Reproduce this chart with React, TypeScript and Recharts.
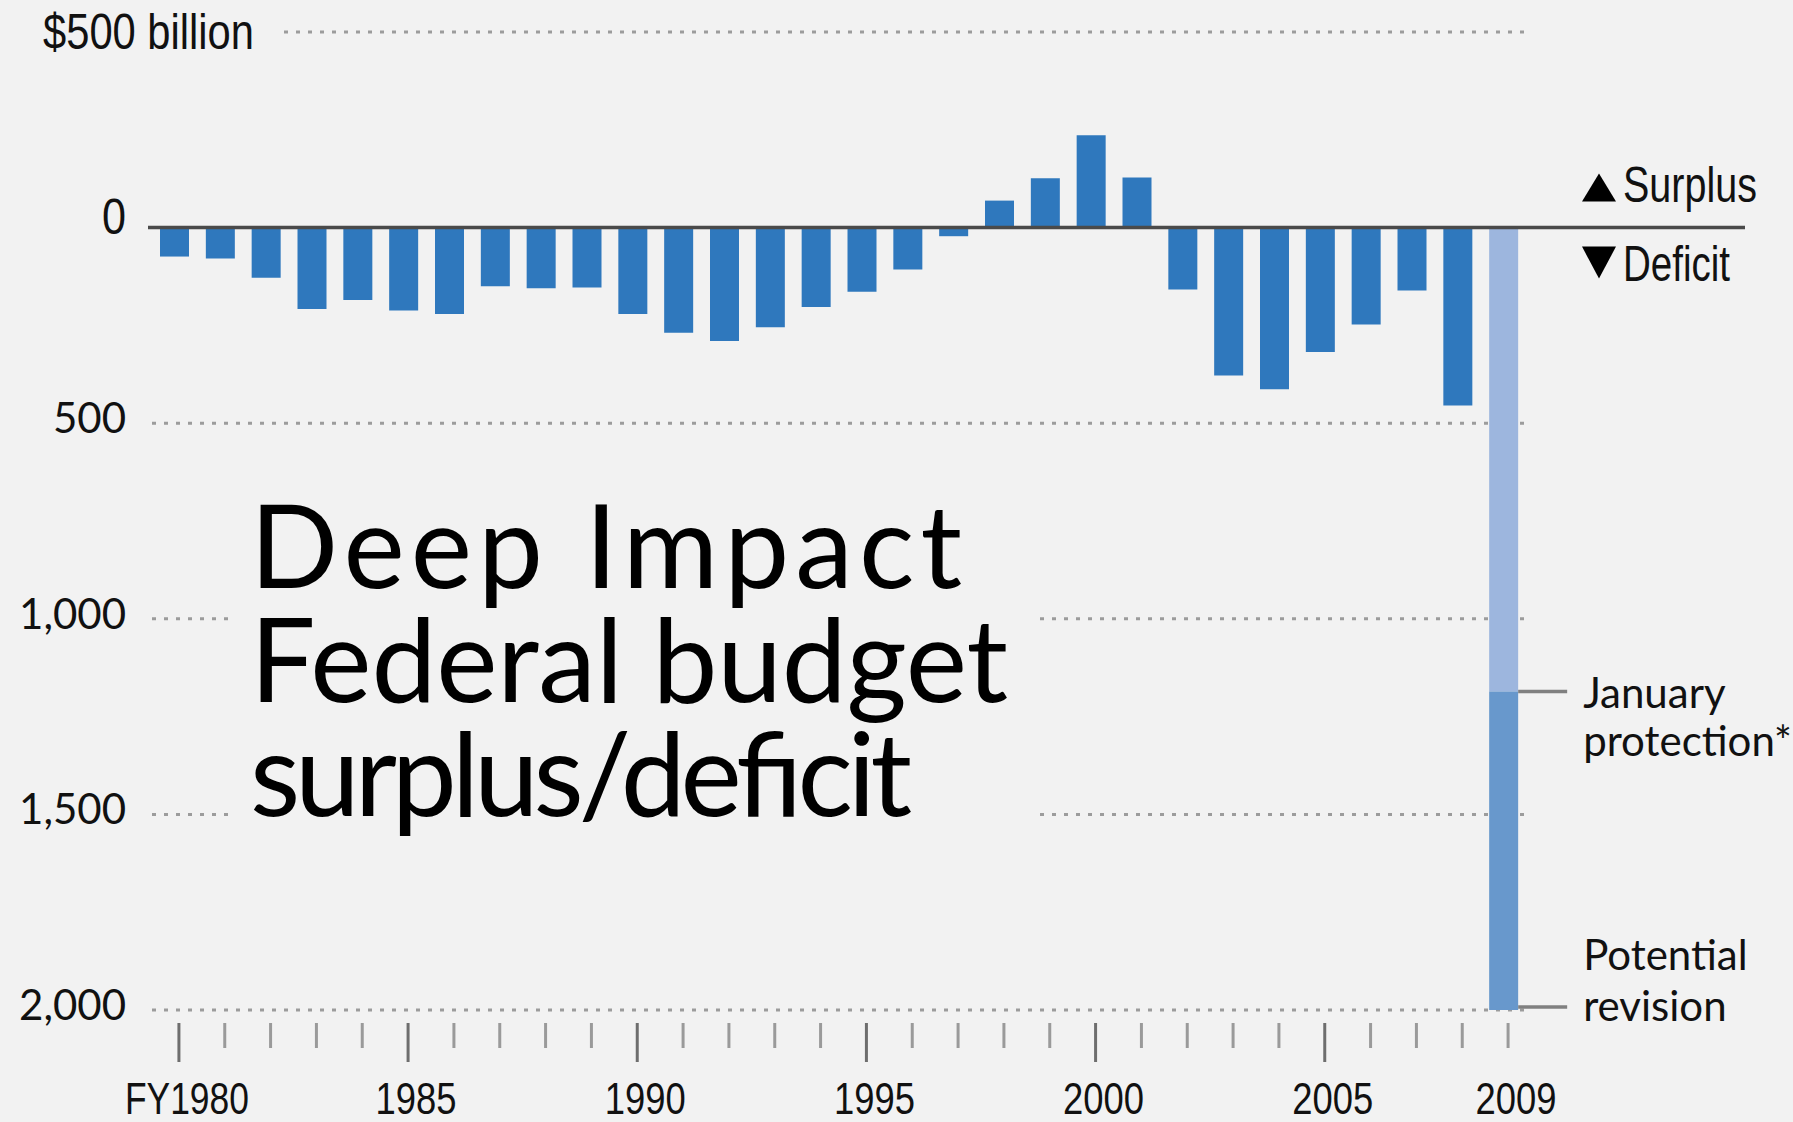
import { BarChart, Bar, XAxis, YAxis, CartesianGrid, ReferenceLine, LabelList } from 'recharts';

// fiscal years on the x axis
const YEARS = [
  1980, 1981, 1982, 1983, 1984, 1985, 1986, 1987, 1988, 1989,
  1990, 1991, 1992, 1993, 1994, 1995, 1996, 1997, 1998, 1999,
  2000, 2001, 2002, 2003, 2004, 2005, 2006, 2007, 2008, 2009,
];

// surplus (+) / deficit (-), $ billion; 2009 drawn separately
const ACTUAL = [
  -74, -79, -128, -208, -185, -212, -221, -150, -155, -153,
  -221, -269, -290, -255, -203, -164, -107, -22, 69, 126,
  236, 128, -158, -378, -413, -318, -248, -161, -455, null,
];

const JANUARY_PROJECTION_2009 = -1186;
const POTENTIAL_REVISION_2009 = -2000;

const Y_TICKS = [500, 0, -500, -1000, -1500, -2000];
const MAJOR_YEARS = [1980, 1985, 1990, 1995, 2000, 2005];
const YEAR_LABELS: Record<number, string> = {
  1980: 'FY1980', 1985: '1985', 1990: '1990', 1995: '1995', 2000: '2000', 2005: '2005', 2009: '2009',
};

const DATA = YEARS.map((year, i) => ({
  year,
  actual: ACTUAL[i],
  projection: year === 2009 ? JANUARY_PROJECTION_2009 : null,
  revision: year === 2009 ? POTENTIAL_REVISION_2009 - JANUARY_PROJECTION_2009 : null,
}));

const BG = '#f2f2f2';
const COND = "'Liberation Sans', Arial, sans-serif";
const HUMAN = "Lato, 'Open Sans', sans-serif";

// condensed-looking text: squeeze a regular face to the measured width
function Narrow({ x, y, size, width, anchor = 'start', children }: any) {
  return (
    <text x={x} y={y} fontFamily={COND} fontSize={size} fill="#111" textAnchor={anchor}
      textLength={width} lengthAdjust="spacingAndGlyphs">
      {children}
    </text>
  );
}

function ValueTick(props: any) {
  const { x, y, payload } = props;
  const v = payload.value;
  if (v === 500) {
    return (
      <g>
        <rect x={x - 12} y={y - 8} width={142} height={16} fill={BG} />
        <Narrow x={x - 109} y={y + 17} size={50} width={211}>$500 billion</Narrow>
      </g>
    );
  }
  if (v === 0) {
    return <Narrow x={x - 26} y={y + 6} size={50} width={24} anchor="end">0</Narrow>;
  }
  return (
    <text x={x - 26} y={y + 10} textAnchor="end" fontFamily={HUMAN} fontSize={42} fill="#111">
      {Math.abs(v).toLocaleString('en-US')}
    </text>
  );
}

function YearTick(props: any) {
  const { x, y, payload } = props;
  const yr = payload.value;
  const major = MAJOR_YEARS.includes(yr);
  const label = YEAR_LABELS[yr];
  return (
    <g>
      <line x1={x + 4} x2={x + 4} y1={y + 13} y2={y + (major ? 52 : 38)} stroke={major ? '#6e6e6e' : '#9a9a9a'} strokeWidth={3} />
      {label && (
        <Narrow x={x + 12} y={y + 104} size={44} width={label.length > 4 ? 124 : 81} anchor="middle">{label}</Narrow>
      )}
    </g>
  );
}

function ZeroLine(props: any) {
  const { x1, x2, y1 } = props;
  const tx = x2 + 55;
  return (
    <g>
      <line x1={x1 - 4} x2={x2 + 218} y1={y1} y2={y1} stroke="#4a4a4a" strokeWidth={3.5} />
      <polygon points={`${tx},${y1 - 26} ${tx + 34},${y1 - 26} ${tx + 17},${y1 - 54}`} fill="#000" />
      <Narrow x={tx + 41} y={y1 - 26} size={50} width={134}>Surplus</Narrow>
      <polygon points={`${tx},${y1 + 19} ${tx + 34},${y1 + 19} ${tx + 17},${y1 + 51}`} fill="#000" />
      <Narrow x={tx + 41} y={y1 + 53} size={50} width={107}>Deficit</Narrow>
    </g>
  );
}

function JanuaryNote(props: any) {
  const { x, y, width, height } = props;
  if (!height || Math.abs(height) < 1) return null;
  const right = x + width;
  const bottom = Math.max(y, y + height);
  return (
    <g>
      <line x1={right} x2={right + 49} y1={bottom} y2={bottom} stroke="#808080" strokeWidth={3.5} />
      <text fontFamily={HUMAN} fontSize={42} fill="#111">
        <tspan x={right + 65} y={bottom + 16}>January</tspan>
        <tspan x={right + 65} y={bottom + 64}>protection*</tspan>
      </text>
    </g>
  );
}

function RevisionNote(props: any) {
  const { x, y, width, height } = props;
  if (!height || Math.abs(height) < 1) return null;
  const right = x + width;
  const bottom = Math.max(y, y + height);
  return (
    <g>
      <line x1={right} x2={right + 49} y1={bottom - 3} y2={bottom - 3} stroke="#808080" strokeWidth={3.5} />
      <text fontFamily={HUMAN} fontSize={42} fill="#111">
        <tspan x={right + 65} y={bottom - 40}>Potential</tspan>
        <tspan x={right + 65} y={bottom + 11}>revision</tspan>
      </text>
    </g>
  );
}

export default function App() {
  return (
    <div style={{ position: 'absolute', left: 0, top: 0, width: 1793, height: 1122, background: BG, overflow: 'hidden' }}>
      <BarChart
        width={1793}
        height={1122}
        data={DATA}
        margin={{ top: 32, right: 266, bottom: 0, left: 0 }}
        stackOffset="sign"
        barSize={29}
      >
        <CartesianGrid vertical={false} stroke="#9c9c9c" strokeWidth={3} strokeDasharray="4 8" />
        <XAxis
          dataKey="year"
          interval={0}
          height={112}
          axisLine={false}
          tickLine={false}
          tickSize={0}
          tickMargin={0}
          tick={<YearTick />}
        />
        <YAxis
          type="number"
          domain={[-2000, 500]}
          ticks={Y_TICKS}
          width={152}
          axisLine={false}
          tickLine={false}
          tickSize={0}
          tickMargin={0}
          tick={<ValueTick />}
        />
        <Bar dataKey="actual" stackId="s" fill="#2f78bd" isAnimationActive={false} />
        <Bar dataKey="projection" stackId="s" fill="#9db6de" isAnimationActive={false}>
          <LabelList content={JanuaryNote} />
        </Bar>
        <Bar dataKey="revision" stackId="s" fill="#6898cc" isAnimationActive={false}>
          <LabelList content={RevisionNote} />
        </Bar>
        <ReferenceLine y={0} shape={ZeroLine} />
      </BarChart>

      {/* title block sits over the gridlines */}
      <svg width={1793} height={1122} style={{ position: 'absolute', left: 0, top: 0, pointerEvents: 'none' }}>
        <rect x={234} y={470} width={800} height={372} fill={BG} />
        <text fontFamily={HUMAN} fontSize={116} fill="#000" lengthAdjust="spacing">
          <tspan x={250} y={588} textLength={712}>Deep Impact</tspan>
        </text>
        <text fontFamily={HUMAN} fontSize={116} fill="#000" lengthAdjust="spacing">
          <tspan x={250} y={702} textLength={758}>Federal budget</tspan>
        </text>
        <text fontFamily={HUMAN} fontSize={116} fill="#000" lengthAdjust="spacing">
          <tspan x={250} y={816} textLength={662}>surplus/deficit</tspan>
        </text>
      </svg>
    </div>
  );
}
